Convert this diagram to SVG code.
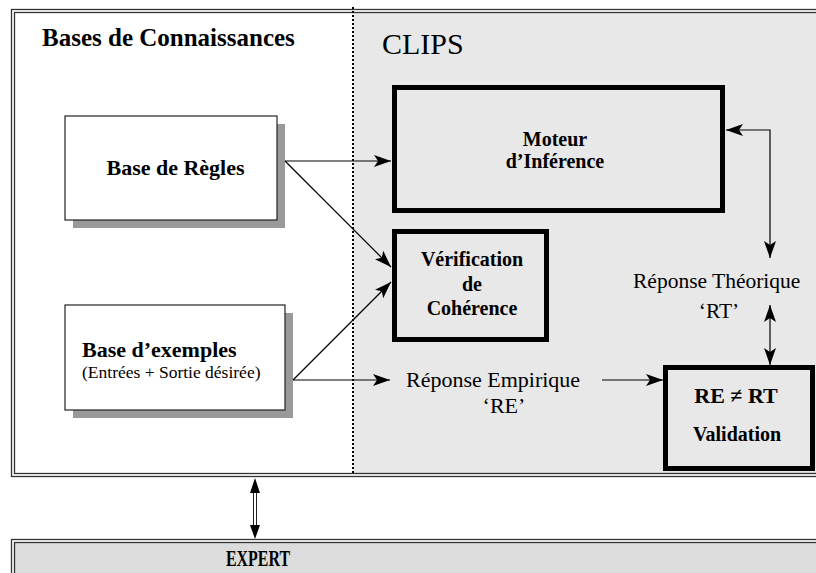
<svg xmlns="http://www.w3.org/2000/svg" width="816" height="573" viewBox="0 0 816 573">
<defs>
<marker id="ah" markerUnits="userSpaceOnUse" markerWidth="18" markerHeight="12" refX="17" refY="6" orient="auto-start-reverse" viewBox="0 0 18 12">
<path d="M0,0 L17,6 L0,12 L4,6 z" fill="#000"/>
</marker>
</defs>
<style>
.frame{fill:none;stroke:#333;stroke-width:1.3}
.box{fill:#fff;stroke:#222;stroke-width:1.2}
.shadow{fill:#999}
.thick{fill:none;stroke:#000;stroke-width:5}
text{font-family:'Liberation Serif',serif;fill:#000}
.b{font-weight:bold}
.c{text-anchor:middle}
.con{fill:none;stroke:#000;stroke-width:1.2}
</style>
<rect width="816" height="573" fill="#fff"/>
<g id="frame">
<rect x="14" y="12.5" width="340" height="461" fill="#fff"/>
<rect x="353" y="12.5" width="470" height="461" fill="#e8e8e8"/>
<rect class="frame" x="11.5" y="9.5" width="820" height="467"/>
<rect class="frame" x="14.5" y="12.5" width="820" height="461"/>
<line x1="353" y1="7" x2="353" y2="473" stroke="#000" stroke-width="2" stroke-dasharray="2,2"/>
<text class="b" x="42" y="46" font-size="25" font-family="Liberation Serif">Bases de Connaissances</text>
<text x="382" y="54" font-size="30" font-family="Liberation Serif">CLIPS</text>
</g>
<g id="base-regles">
<rect class="shadow" x="73" y="124" width="212" height="104"/>
<rect class="box" x="65" y="116" width="212" height="104"/>
<text class="b c" x="175.5" y="175" font-size="22" font-family="Liberation Serif">Base de Règles</text>
</g>
<g id="base-exemples">
<rect class="shadow" x="73" y="313" width="220" height="105"/>
<rect class="box" x="65" y="305" width="220" height="105"/>
<text class="b" x="82" y="357" font-size="22" font-family="Liberation Serif">Base d’exemples</text>
<text x="82" y="378" font-size="17.5" font-family="Liberation Serif">(Entrées + Sortie désirée)</text>
</g>
<g id="moteur">
<rect class="thick" x="394.5" y="87.5" width="328" height="123"/>
<text class="b c" x="555" y="146" font-size="20" font-family="Liberation Serif">Moteur</text>
<text class="b c" x="555" y="168" font-size="20" font-family="Liberation Serif">d’Inférence</text>
</g>
<g id="verification">
<rect class="thick" x="394.5" y="231.5" width="152" height="108"/>
<text class="b c" x="472" y="266" font-size="20" font-family="Liberation Serif">Vérification</text>
<text class="b c" x="472" y="291" font-size="20" font-family="Liberation Serif">de</text>
<text class="b c" x="472" y="315" font-size="20" font-family="Liberation Serif">Cohérence</text>
</g>
<g id="reponse-theorique">
<text x="633" y="288" font-size="21.5" font-family="Liberation Serif">Réponse Théorique</text>
<text class="c" x="719" y="318" font-size="21.5" font-family="Liberation Serif">‘RT’</text>
</g>
<g id="reponse-empirique">
<text x="406" y="387" font-size="22" font-family="Liberation Serif">Réponse Empirique</text>
<text class="c" x="504" y="413" font-size="22" font-family="Liberation Serif">‘RE’</text>
</g>
<g id="validation">
<rect class="thick" x="665.5" y="367.5" width="147" height="101"/>
<text class="b c" x="736" y="403" font-size="22" font-family="Liberation Serif">RE ≠ RT</text>
<text class="b c" x="737" y="441" font-size="20" font-family="Liberation Serif">Validation</text>
</g>
<g id="expert">
<rect x="14" y="542" width="810" height="40" fill="#dcdcdc"/>
<rect class="frame" x="11.5" y="539.5" width="820" height="50"/>
<rect class="frame" x="14.5" y="542.5" width="820" height="50"/>
<text class="b c" x="258" y="566" font-size="24" font-family="Liberation Serif" textLength="64" lengthAdjust="spacingAndGlyphs">EXPERT</text>
</g>
<g id="connectors">
<line class="con" x1="285" y1="161" x2="391" y2="161" marker-end="url(#ah)"/>
<line class="con" x1="285" y1="161" x2="391" y2="267" marker-end="url(#ah)"/>
<line class="con" x1="293" y1="380" x2="391" y2="282" marker-end="url(#ah)"/>
<line class="con" x1="293" y1="380" x2="390" y2="380" marker-end="url(#ah)"/>
<line class="con" x1="602" y1="380" x2="663" y2="380" marker-end="url(#ah)"/>
<polyline class="con" points="726,130 770,130 770,258" marker-start="url(#ah)" marker-end="url(#ah)"/>
<line class="con" x1="770" y1="305" x2="770" y2="365" marker-start="url(#ah)" marker-end="url(#ah)"/>
<line x1="253.5" y1="490" x2="253.5" y2="528" stroke="#222" stroke-width="1"/>
<line x1="256.5" y1="490" x2="256.5" y2="528" stroke="#222" stroke-width="1"/>
<path d="M255,478 L260,493 L250,493 z" fill="#000"/>
<path d="M255,539 L260,525 L250,525 z" fill="#000"/>
</g>
</svg>
